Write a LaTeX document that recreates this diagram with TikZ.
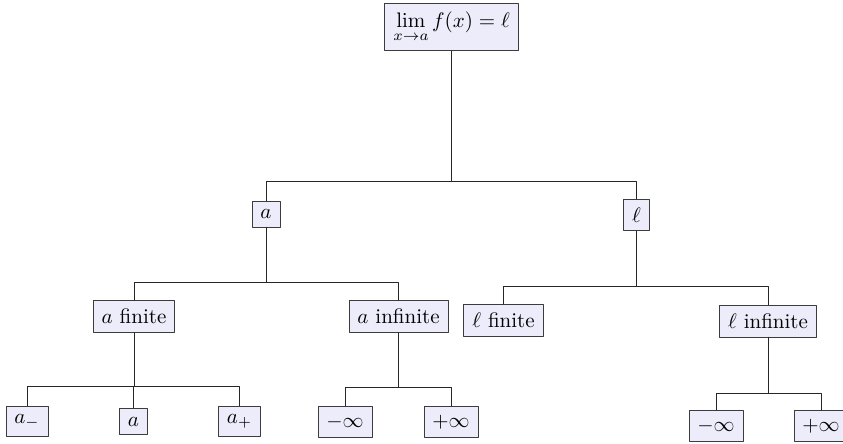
\documentclass[tikz,border=0pt]{standalone}
\usepackage{amsmath,amssymb}
\usetikzlibrary{positioning}
\definecolor{boxfill}{RGB}{236,236,250}
\definecolor{boxline}{RGB}{60,60,60}

\begin{document}
\begin{tikzpicture}[x=0.4762pt,y=-0.4762pt,line cap=round,line join=round,
  limbox/.style={draw=boxline,fill=boxfill,inner sep=4pt,thin},
  fork/.style={black!85,thin}]
\useasboundingbox (0,0) rectangle (843,443);
% levels of the tree
\node[limbox] (root) at (451.5,27) {$\lim\limits_{x\to a} f(x)=\ell$};
\node[limbox] (a) at (266,214) {$a$};
\node[limbox] (l) at (636.5,215) {$\ell$};
\node[limbox] (afin) at (134,316.5) {$a$ finite};
\node[limbox] (ainf) at (398.5,316.5) {$a$ infinite};
\node[limbox] (lfin) at (503.5,320.5) {$\ell$ finite};
\node[limbox] (linf) at (768,321) {$\ell$ infinite};
\node[limbox] (aminus) at (27,421.5) {$a_-$};
\node[limbox] (azero) at (133.5,421.5) {$a$};
\node[limbox] (aplus) at (239.5,421.5) {$a_+$};
\node[limbox] (aneg) at (345,422) {$-\infty$};
\node[limbox] (apos) at (451,422) {$+\infty$};
\node[limbox] (lneg) at (716,426) {$-\infty$};
\node[limbox] (lpos) at (821,426) {$+\infty$};
% forks
\coordinate (rootfork) at (451.5,181);
\coordinate (afork) at (266,282);
\coordinate (lfork) at (636.5,286);
\coordinate (afinfork) at (134,386);
\coordinate (ainffork) at (398.5,387);
\coordinate (linffork) at (768,393);
\foreach \up/\fk in {root/rootfork,a/afork,l/lfork,afin/afinfork,ainf/ainffork,linf/linffork}
  {\draw[fork] (\up.south) -- (\fk);}
\foreach \fk/\kid in {rootfork/a,rootfork/l,afork/afin,afork/ainf,lfork/lfin,lfork/linf,
  afinfork/aminus,afinfork/azero,afinfork/aplus,ainffork/aneg,ainffork/apos,
  linffork/lneg,linffork/lpos}
  {\draw[fork] (\fk) -| (\kid.north);}
\end{tikzpicture}
\end{document}
